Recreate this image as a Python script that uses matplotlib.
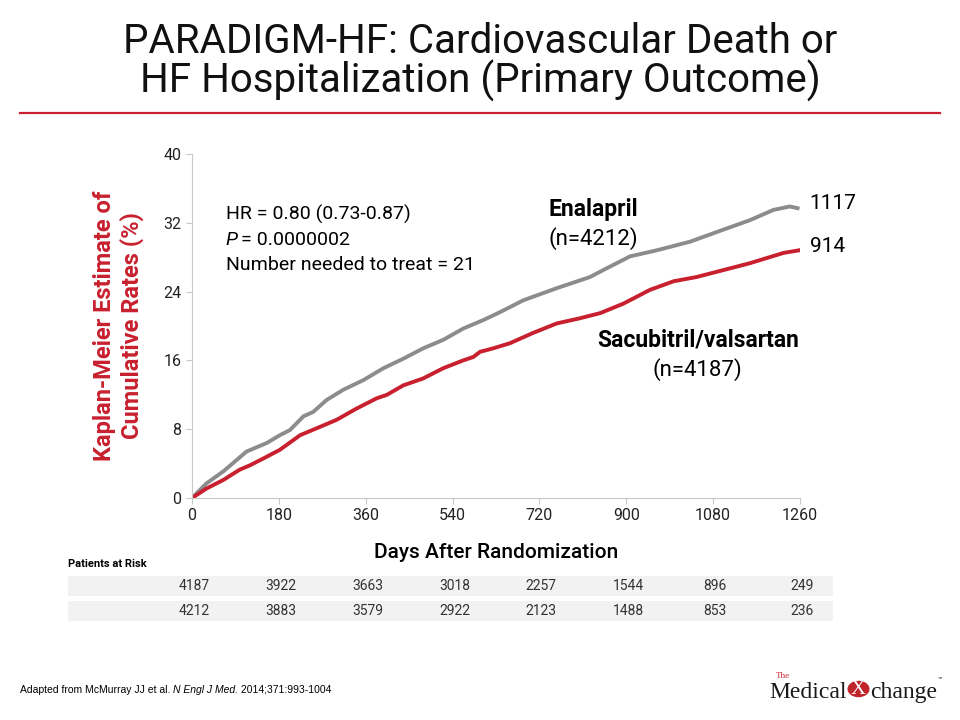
import matplotlib

matplotlib.use("Agg")
import matplotlib.pyplot as plt
from matplotlib.patches import Circle, Rectangle
from matplotlib.transforms import blended_transform_factory

# Kaplan-Meier curves (days, cumulative %)
days_ena = [0, 30, 65, 113, 155, 182, 203, 231, 251, 279, 314, 355, 397, 438,
            479, 521, 562, 604, 638, 687, 756, 825, 859, 908, 963, 1032, 1101,
            1156, 1205, 1239, 1255]
rate_ena = [0, 1.7, 3.1, 5.4, 6.4, 7.3, 7.9, 9.5, 10.0, 11.4, 12.6, 13.7, 15.1, 16.2,
            17.4, 18.4, 19.7, 20.7, 21.6, 23.0, 24.4, 25.7, 26.7, 28.1, 28.8, 29.8, 31.2,
            32.3, 33.5, 33.9, 33.7]
days_sv = [0, 30, 65, 99, 120, 148, 182, 224, 258, 300, 341, 383, 404, 438, 479,
           521, 562, 583, 597, 624, 659, 707, 756, 804, 846, 894, 949, 998, 1046,
           1101, 1156, 1191, 1226, 1258]
rate_sv = [0, 1.1, 2.1, 3.3, 3.8, 4.6, 5.6, 7.3, 8.1, 9.1, 10.4, 11.6, 12.0, 13.1, 13.9,
           15.1, 16.0, 16.4, 17.0, 17.4, 18.0, 19.2, 20.3, 20.9, 21.5, 22.6, 24.2, 25.2, 25.7,
           26.5, 27.3, 27.9, 28.5, 28.8]

x_ticks = [0, 180, 360, 540, 720, 900, 1080, 1260]
y_ticks = [0, 8, 16, 24, 32, 40]
risk_sv = [4187, 3922, 3663, 3018, 2257, 1544, 896, 249]
risk_ena = [4212, 3883, 3579, 2922, 2123, 1488, 853, 236]
events_ena = 1117
events_sv = 914

RED = "#c8202f"
GRAY = "#8c8c8c"

plt.rcParams["font.family"] = ["Roboto", "DejaVu Sans"]

fig = plt.figure(figsize=(9.6, 7.2), dpi=100)
W, H = 960, 720


def fx(px):
    return px / W


def fy(py):
    return 1 - py / H


def run(x, y, parts, **kw):
    """Place text pieces one after another starting at pixel x."""
    r = fig.canvas.get_renderer()
    for s, extra in parts:
        t = fig.text(fx(x), fy(y), s, **kw, **extra)
        x = t.get_window_extent(r).x1
    return x


# title + rule
fig.text(0.5, fy(53), "PARADIGM-HF: Cardiovascular Death or", ha="center",
         va="baseline", fontsize=29, color="#111111")
fig.text(0.5, fy(93), "HF Hospitalization (Primary Outcome)", ha="center",
         va="baseline", fontsize=29, color="#111111")
fig.add_artist(plt.Line2D([fx(20), fx(940)], [fy(113), fy(113)],
                          color=RED, linewidth=1.6))

ax = fig.add_axes([fx(192), fy(498), fx(800) - fx(192), fy(154) - fy(498)])
ax.plot(days_ena, rate_ena, color=GRAY, linewidth=2.8, solid_joinstyle="round")
ax.plot(days_sv, rate_sv, color=RED, linewidth=2.8, solid_joinstyle="round")
ax.set_xlim(0, 1260)
ax.set_ylim(0, 40)
ax.set_xticks(x_ticks)
ax.set_yticks(y_ticks)
ax.tick_params(labelsize=11.5, colors="#222222", length=4, color="#c8c8c8")
ax.spines[["top", "right"]].set_visible(False)
ax.spines[["left", "bottom"]].set_color("#c8c8c8")
ax.set_xlabel("Days After Randomization", fontsize=15, fontweight="medium",
              labelpad=14)
ax.set_ylabel("Kaplan-Meier Estimate of\nCumulative Rates (%)", fontsize=17,
              color=RED, fontweight="bold", labelpad=14, linespacing=1.2)

# annotations inside the plot
ax.text(70, 33.0, "HR = 0.80 (0.73-0.87)", fontsize=14, va="center")
ax.text(70, 30.0, "P", fontsize=14, va="center", style="italic")
ax.text(101, 30.0, "= 0.0000002", fontsize=14, va="center")
ax.text(70, 27.1, "Number needed to treat = 21", fontsize=14, va="center")

ax.text(832, 33.6, "Enalapril", fontsize=16.5, fontweight="bold", ha="center", va="center")
ax.text(832, 30.2, "(n=4212)", fontsize=16, ha="center", va="center")
ax.text(1048, 18.4, "Sacubitril/valsartan", fontsize=16.5, fontweight="bold",
        ha="center", va="center")
ax.text(1048, 14.9, "(n=4187)", fontsize=16, ha="center", va="center")
ax.text(1280, 34.3, str(events_ena), fontsize=15, va="center", clip_on=False)
ax.text(1280, 29.2, str(events_sv), fontsize=15, va="center", clip_on=False)

# patients at risk table
fig.text(fx(68), fy(564), "Patients at Risk", fontsize=8, fontweight="bold", va="center")
for top in (576, 601):
    fig.add_artist(Rectangle((fx(68), fy(top + 20)), fx(833) - fx(68), 20 / H,
                             facecolor="#f2f2f2", edgecolor="none", zorder=0.5))
trans = blended_transform_factory(ax.transData, fig.transFigure)
for xv, a, b in zip(x_ticks, risk_sv, risk_ena):
    fig.text(xv + 4, fy(586), str(a), transform=trans, fontsize=10, ha="center",
             va="center", color="#333333")
    fig.text(xv + 4, fy(611), str(b), transform=trans, fontsize=10, ha="center",
             va="center", color="#333333")

# footer
fig.canvas.draw()
foot = dict(fontsize=7.5, va="center", family="Liberation Sans")
run(20, 690, [("Adapted from McMurray JJ et al. ", {}),
              ("N Engl J Med.", {"style": "italic"}),
              (" 2014;371:993-1004", {})], **foot)

# logo
serif = dict(family="Liberation Serif", va="baseline", color="#1a1a1a", fontsize=17)
x_end = run(769, 698, [("Medical", {})], **serif)
fig.text(fx(776), fy(678), "The", fontsize=6.5, color=RED, family="Liberation Serif",
         va="baseline")
cx = x_end + 12
fig.add_artist(Circle((fx(cx), fy(689)), 11 / W, transform=fig.transFigure,
                      facecolor="#c0242b", edgecolor="none"))
fig.text(fx(cx), fy(689), "X", fontsize=15, ha="center", va="center",
         color="white", family="Liberation Serif")
x_end = run(cx + 12, 698, [("change", {})], **serif)
fig.text(fx(x_end), fy(681), "™", fontsize=5, color="#1a1a1a")

fig.savefig("out.png", dpi=100)
